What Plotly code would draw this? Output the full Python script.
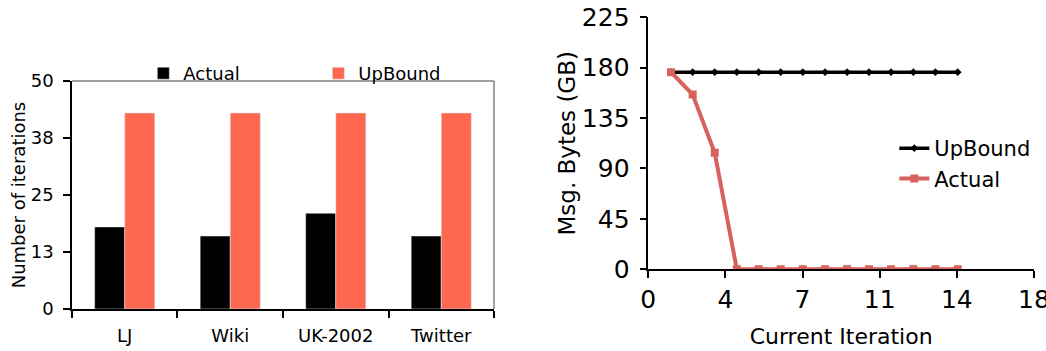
import plotly.graph_objects as go

# Left chart data
datasets = ["LJ", "Wiki", "UK-2002", "Twitter"]
actual_iters = [18, 16, 21, 16]
upbound_iters = [43, 43, 43, 43]
left_tickvals = [0, 12.5, 25, 37.5, 50]
left_ticktext = ["0", "13", "25", "38", "50"]

# Right chart data
iteration = [1.06, 2.07, 3.1, 4.13, 5.15, 6.18, 7.21, 8.25, 9.28, 10.3, 11.33, 12.37, 13.4, 14.44]
upbound_bytes = [176] * 14
actual_bytes = [176, 156, 104, 0, 0, 0, 0, 0, 0, 0, 0, 0, 0, 0]
right_xtickvals = [0, 3.6, 7.2, 10.8, 14.4, 18]
right_xticktext = ["0", "4", "7", "11", "14", "18"]
right_ytickvals = [0, 45, 90, 135, 180, 225]

FONT = "DejaVu Sans"
BLACK = "#000000"
ORANGE = "#FF6850"
RED = "#D6625C"

fig = go.Figure()

fig.add_trace(go.Bar(x=datasets, y=actual_iters, name="Actual", marker_color=BLACK,
                     xaxis="x", yaxis="y", legend="legend"))
fig.add_trace(go.Bar(x=datasets, y=upbound_iters, name="UpBound", marker_color=ORANGE,
                     xaxis="x", yaxis="y", legend="legend"))

fig.add_trace(go.Scatter(x=iteration, y=upbound_bytes, name="UpBound", mode="lines+markers",
                         line=dict(color=BLACK, width=3.5),
                         marker=dict(symbol="diamond", size=6, color=BLACK),
                         xaxis="x2", yaxis="y2", legend="legend2"))
fig.add_trace(go.Scatter(x=iteration, y=actual_bytes, name="Actual", mode="lines+markers",
                         line=dict(color=RED, width=4),
                         marker=dict(symbol="square", size=8, color=RED),
                         xaxis="x2", yaxis="y2", legend="legend2"))

axis_common = dict(showgrid=False, zeroline=False, showline=True, linecolor=BLACK, linewidth=1.5,
                   ticks="outside", ticklen=7, tickcolor=BLACK, tickwidth=1.5, automargin=False,
                   ticklabeloverflow="allow")

fig.update_layout(
    width=1046, height=351,
    margin=dict(l=0, r=0, t=0, b=0, autoexpand=False),
    paper_bgcolor="white", plot_bgcolor="white",
    font=dict(family=FONT, color=BLACK),
    barmode="group", bargap=0.43, bargroupgap=0,
    showlegend=True,
    xaxis=dict(domain=[0.0688, 0.4723], anchor="y", type="category", tickson="boundaries",
               tickfont=dict(size=18), ticklabelstandoff=10, **axis_common),
    yaxis=dict(domain=[0.1197, 0.769], anchor="x", range=[0, 50],
               tickvals=left_tickvals, ticktext=left_ticktext, tickfont=dict(size=18),
               ticklabelstandoff=6,
               title=dict(text="Number of iterations", font=dict(size=18), standoff=0),
               **axis_common),
    xaxis2=dict(domain=[0.6198, 0.9885], anchor="y2", range=[0, 18],
                tickvals=right_xtickvals, ticktext=right_xticktext, tickfont=dict(size=25),
                title=dict(text="Current Iteration", font=dict(size=22), standoff=16),
                **axis_common),
    yaxis2=dict(domain=[0.2328, 0.9507], anchor="x2", range=[0, 225],
                tickvals=right_ytickvals, tickfont=dict(size=25), ticklabelstandoff=5,
                title=dict(text="Msg. Bytes (GB)", font=dict(size=23), standoff=0),
                **axis_common),
    legend=dict(orientation="h", x=0.137, y=1 - 55/351, xanchor="left", yanchor="top",
                font=dict(size=18), entrywidth=130, entrywidthmode="pixels",
                bgcolor="rgba(0,0,0,0)", itemclick=False),
    legend2=dict(orientation="v", x=0.855, y=1 - 128/351, xanchor="left", yanchor="top",
                 font=dict(size=21), bgcolor="rgba(0,0,0,0)", itemclick=False,
                 tracegroupgap=4),
)

# gray frame on top and right of left chart
fig.add_shape(type="line", xref="x domain", yref="y domain", x0=0, x1=1, y0=1, y1=1,
              line=dict(color="#808080", width=1.5), layer="below")
fig.add_shape(type="line", xref="x domain", yref="y domain", x0=1, x1=1, y0=0, y1=1,
              line=dict(color="#808080", width=1.5), layer="below")

fig.write_html("out.html", config={"displayModeBar": False},
               post_script="document.body.style.margin='0';document.body.style.overflow='hidden';")
